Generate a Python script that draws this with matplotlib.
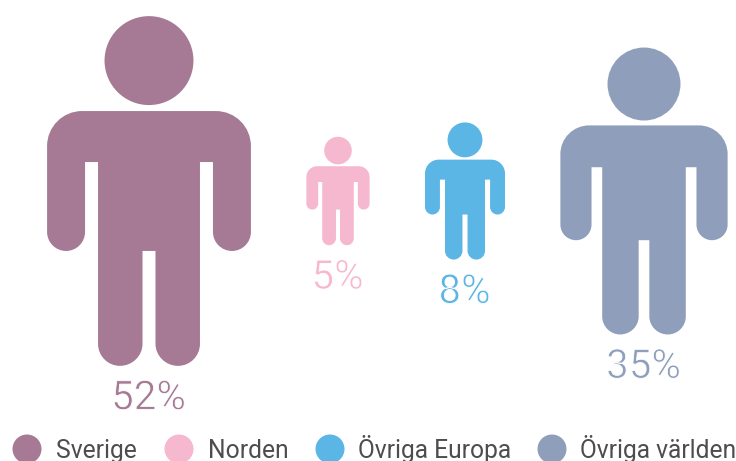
import numpy as np
import matplotlib
matplotlib.use("Agg")
import matplotlib.pyplot as plt
import matplotlib.patheffects as pe
from matplotlib.path import Path
from matplotlib.patches import PathPatch, Circle
from matplotlib.transforms import Affine2D

plt.rcParams['font.family'] = ['Roboto', 'DejaVu Sans']

regions = ['Sverige', 'Norden', 'Övriga Europa', 'Övriga världen']
shares = [52, 5, 8, 35]
colors = ['#A67A94', '#F6B8CE', '#5BB5E5', '#8F9FBB']

center_x = [149, 338, 465, 644]
legend_dot_x = [27, 179, 330, 552]
legend_text_x = [56, 208, 358, 580]


def person_path():
    # kroppen ritad i en ruta dar hela figuren ar 350 hog, x=0 i mitten
    k = 0.5523
    right = [
        (Path.LINETO, (67, 95)),
        (Path.CURVE4, (67 + 35 * k, 95)), (Path.CURVE4, (102, 130 - 35 * k)), (Path.CURVE4, (102, 130)),
        (Path.LINETO, (102, 216)),
        (Path.CURVE4, (102, 216 + 19 * k)), (Path.CURVE4, (83 + 19 * k, 235)), (Path.CURVE4, (83, 235)),
        (Path.CURVE4, (83 - 19 * k, 235)), (Path.CURVE4, (64, 216 + 19 * k)), (Path.CURVE4, (64, 216)),
        (Path.LINETO, (64, 146)),
        (Path.LINETO, (51, 146)),
        (Path.LINETO, (51, 328)),
        (Path.CURVE4, (51, 328 + 22 * k)), (Path.CURVE4, (29 + 22 * k, 350)), (Path.CURVE4, (29, 350)),
        (Path.CURVE4, (29 - 22 * k, 350)), (Path.CURVE4, (6.5, 328 + 22 * k)), (Path.CURVE4, (6.5, 328)),
        (Path.LINETO, (6.5, 235)),
    ]
    codes = [Path.MOVETO]
    verts = [(-67, 95)]
    for c, v in right:
        codes.append(c)
        verts.append(v)
    # vanster sida ar en spegling, baklanges
    pts = [v for c, v in right]
    cds = [c for c, v in right]
    mirrored = [(-x, y) for x, y in pts[::-1]] + [(-67, 95)]
    for i, v in enumerate(mirrored):
        verts.append(v)
        if i == 0:
            codes.append(Path.LINETO)
        else:
            codes.append(cds[len(cds) - i])
    codes[-1] = Path.LINETO
    body = Path(verts, codes)
    head = Path.circle((0, 44.5), 44.5)
    return Path.make_compound_path(body, head)


fig = plt.figure(figsize=(7.36, 4.61), dpi=100)
ax = fig.add_axes([0, 0, 1, 1])
ax.set_xlim(0, 736)
ax.set_ylim(461, 0)
ax.axis('off')

shape = person_path()
mid_y = 191
for x, share, col in zip(center_x, shares, colors):
    # ytan foljer andelen, dvs hojden gar med roten ur
    h = 48.5 * np.sqrt(share)
    s = h / 350
    tr = Affine2D().scale(s).translate(x, mid_y - h / 2) + ax.transData
    ax.add_patch(PathPatch(shape, facecolor=col, edgecolor='none', transform=tr))
    # vit kant gor siffrorna lite tunnare, light-vikten blir for tunn
    t = ax.text(x - 0.5, mid_y + h / 2 + 43.5, f'{share}%', color=col, fontsize=29, fontweight='normal',
                ha='center', va='baseline')
    t.set_path_effects([pe.Stroke(linewidth=0.6, foreground='white')])

for dx, tx, name, col in zip(legend_dot_x, legend_text_x, regions, colors):
    ax.add_patch(Circle((dx, 449), 14.5, facecolor=col, edgecolor='none'))
    ax.text(tx, 458, name, color='#4D4D4D', fontsize=17.7, ha='left', va='baseline')

fig.savefig('out.png', dpi=100)
